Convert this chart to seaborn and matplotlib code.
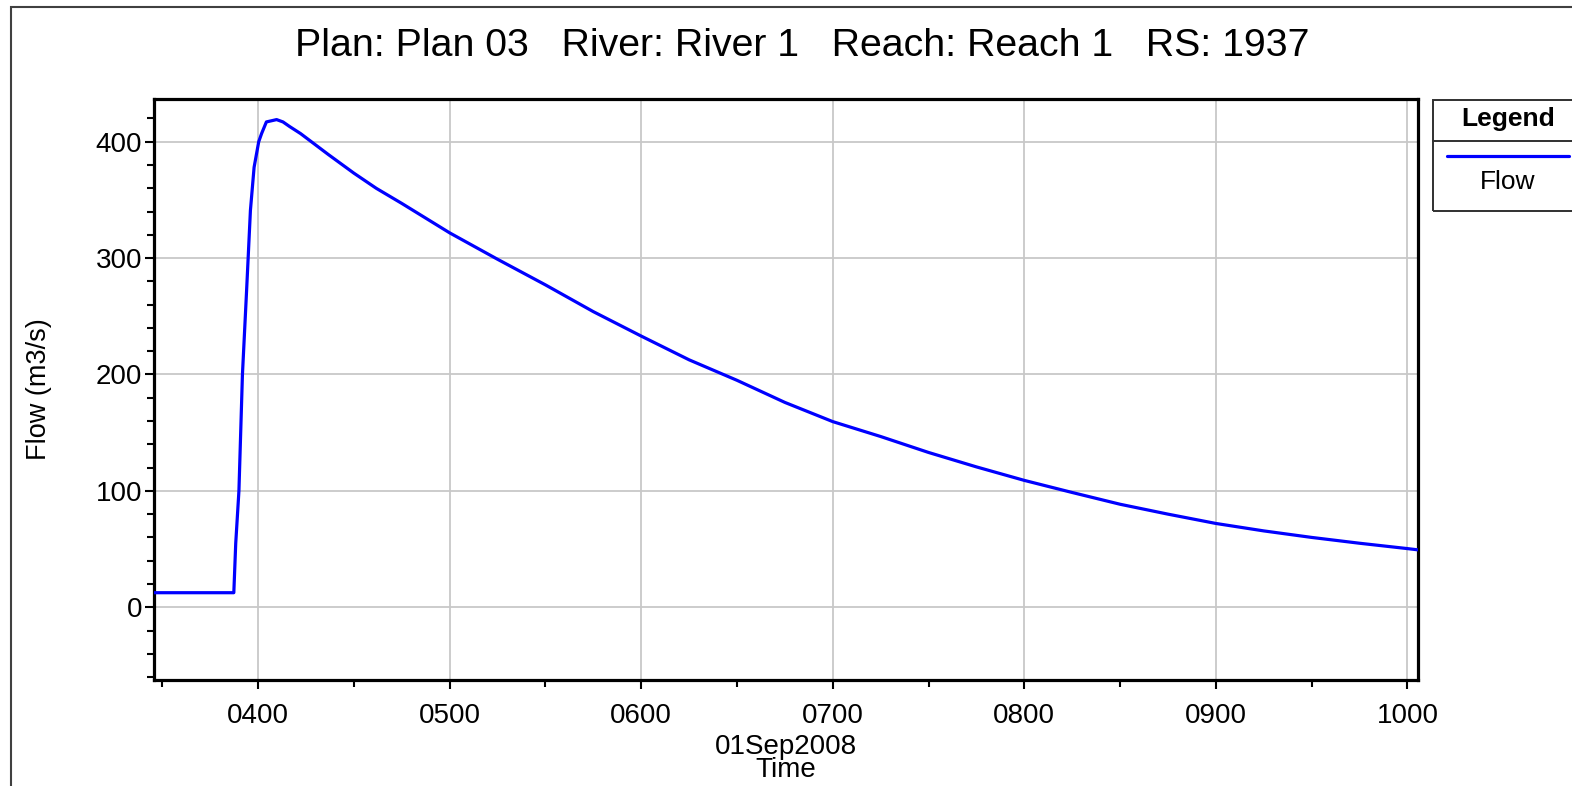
import pandas as pd
import seaborn as sns
import matplotlib
matplotlib.use('Agg')
import matplotlib.pyplot as plt
import matplotlib.dates as mdates
from matplotlib.ticker import MultipleLocator
from matplotlib.patches import Rectangle
from matplotlib.lines import Line2D

# Hydrograph (01Sep2008, Flow in m3/s)
day = '2008-09-01'
times = ['03:27:00', '03:52:24', '03:53:00', '03:54:00', '03:55:06', '03:56:24',
         '03:57:36', '03:58:45', '04:00:12', '04:01:06', '04:02:36', '04:05:48',
         '04:07:48', '04:09:54', '04:13:18', '04:16:12', '04:22:00', '04:30:00',
         '04:37:00', '04:45:00', '05:00:00', '05:15:00', '05:30:00', '05:45:00',
         '06:00:00', '06:15:00', '06:30:00', '06:45:00', '07:00:00', '07:15:00',
         '07:30:00', '07:45:00', '08:00:00', '08:15:00', '08:30:00', '08:45:00',
         '09:00:00', '09:15:00', '09:30:00', '09:45:00', '10:00:00', '10:04:18']
flow = [12.5, 12.5, 55, 100, 200, 272,
        341, 378, 400, 407, 417, 419,
        417, 413, 407, 401, 389, 373,
        360, 347, 321.7, 299, 277, 254,
        233, 212.6, 195, 176, 159.5, 146.7,
        133, 120.6, 109, 98.6, 88.5, 80,
        72, 65.6, 60, 55, 50.4, 49]

title = 'Plan: Plan 03   River: River 1   Reach: Reach 1   RS: 1937'

df = pd.DataFrame({'time': pd.to_datetime([day + ' ' + t for t in times]),
                   'flow': flow})

sns.set_theme(style='white')
plt.rcParams['font.family'] = ['Liberation Sans', 'DejaVu Sans']
plt.rcParams['text.color'] = 'black'
plt.rcParams['axes.labelcolor'] = 'black'

W, H = 1572, 786
fig = plt.figure(figsize=(W / 100, H / 100), dpi=100)
fig.patch.set_facecolor('white')

# axes box in pixel terms: x 154..1418, y 99..680
ax = fig.add_axes([154 / W, 1 - 680 / H, 1264 / W, 581 / H])

sns.lineplot(data=df, x='time', y='flow', ax=ax, color='#0000ff',
             linewidth=2.3, zorder=3)

ax.set_xlim(pd.Timestamp(day + ' 03:27:24'), pd.Timestamp(day + ' 10:03:18'))
ax.set_ylim(-62.5, 436.7)

ax.xaxis.set_major_locator(mdates.HourLocator(byhour=range(4, 11)))
ax.xaxis.set_minor_locator(mdates.MinuteLocator(byminute=[30]))
ax.xaxis.set_major_formatter(mdates.DateFormatter('%H%M'))
ax.yaxis.set_major_locator(MultipleLocator(100))
ax.yaxis.set_minor_locator(MultipleLocator(20))

ax.grid(True, which='major', color='#c8c8c8', linewidth=1.3, zorder=0)
ax.set_axisbelow(True)

for s in ax.spines.values():
    s.set_color('black')
    s.set_linewidth(2.3)

ax.tick_params(axis='both', which='major', direction='out', length=6.5,
               width=1.5, color='black', labelsize=20, labelcolor='black')
ax.tick_params(axis='both', which='minor', direction='out', length=5,
               width=1.5, color='black')
ax.tick_params(axis='y', which='both', left=True, right=False)
ax.tick_params(axis='y', which='major', pad=2)
ax.tick_params(axis='x', which='both', bottom=True, top=False)
ax.tick_params(axis='x', which='major', pad=10)

ax.set_xlabel('01Sep2008\nTime', fontsize=20, linespacing=0.85, labelpad=4)
ax.set_ylabel('Flow (m3/s)', fontsize=19.5)
ax.yaxis.set_label_coords(-0.081, 0.5)

fig.text(802.5 / W, 1 - 46 / H, title, ha='center', va='center', fontsize=28.3)

# outer frame of the plot window
fig.add_artist(Rectangle((11 / W, -0.2), 1.5, 1.2 - 7 / H, transform=fig.transFigure,
                         fill=False, edgecolor='#404040', linewidth=1.5, clip_on=False))

# legend panel on the right
lx0, ly0, ly1 = 1432.5 / W, 1 - 211 / H, 1 - 100 / H
fig.add_artist(Rectangle((lx0, ly0), 0.2, ly1 - ly0, transform=fig.transFigure,
                         fill=False, edgecolor='#303030', linewidth=1.4, clip_on=False))
fig.add_artist(Line2D([lx0, 1.0], [1 - 140.7 / H] * 2, transform=fig.transFigure,
                      color='#303030', linewidth=1.4))
fig.add_artist(Line2D([1446.7 / W, 1569 / W], [1 - 155.7 / H] * 2,
                      transform=fig.transFigure, color='#0000ff', linewidth=2.3))
fig.text(1508 / W, 1 - 119 / H, 'Legend', ha='center', va='center',
         fontsize=19, fontweight='bold')
fig.text(1508 / W, 1 - 182 / H, 'Flow', ha='center', va='center', fontsize=19)

fig.savefig('out.png', dpi=100)
